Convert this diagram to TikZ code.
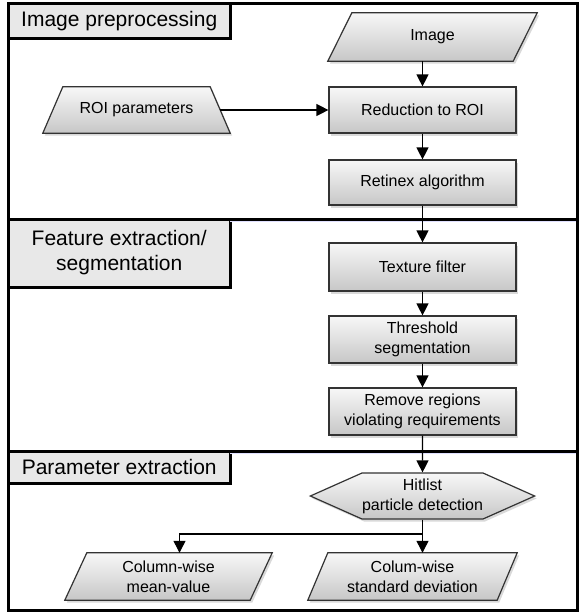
\documentclass[tikz,border=0pt]{standalone}
\usepackage{fontspec}
\setmainfont{Liberation Sans}
\usetikzlibrary{shapes.symbols,shadows,arrows.meta,backgrounds}

\begin{document}
\begin{tikzpicture}
  [x=1pt,y=-1pt,
   every node/.style={font=\fontsize{16}{20}\selectfont,align=center,inner sep=0pt},
   shade box/.style={draw=black!80,line width=1.2pt,top color=black!3,bottom color=black!22,
     drop shadow={shadow xshift=2pt,shadow yshift=-2.5pt,opacity=.3}},
   proc/.style={shade box,rectangle,minimum width=187pt,minimum height=46pt},
   io/.style={rectangle,minimum width=209pt,minimum height=47pt},
   hexa/.style={shade box,signal,signal to=east and west,signal pointer angle=48,
     minimum width=217pt,minimum height=46pt},
   ttl/.style={rectangle,draw=black,line width=3pt,fill=black!9,
     font=\fontsize{21}{25}\selectfont,minimum width=221.5pt},
   arr/.style={-{Triangle[length=12pt,width=12pt]},line width=1.2pt}]
  \useasboundingbox (0,0) rectangle (579,614);

  % lanes
  \node[ttl,minimum height=34.5pt] (ttlA) at (119.25,20.75) {Image preprocessing};
  \node[ttl,minimum height=68pt] (ttlB) at (119.25,253) {Feature extraction/\\segmentation};
  \node[ttl,minimum height=32pt] (ttlC) at (119.25,467) {Parameter extraction};
  \foreach \y in {221.5,453.5}
    \draw[blue!12,line width=1.5pt] (230,\y) -- (575.5,\y);
  \foreach \y in {219,451}
    \draw[line width=3pt] (8.5,\y) -- (577,\y);
  \draw[line width=3pt] (8.5,3.5) rectangle (577,610);

  % flow
  \node[io,minimum height=48pt] (img) at (432.5,37) {Image};
  \node[io,minimum width=187pt,minimum height=46pt] (roi) at (136.5,110) {ROI parameters};
  \node[proc] (red) at (422.5,110) {Reduction to ROI};
  \node[proc,minimum height=45pt] (ret) at (422.5,182.5) {Retinex algorithm};
  \node[proc,minimum height=48pt] (tex) at (422.5,267) {Texture filter};
  \node[proc,minimum height=47pt] (thr) at (422.5,339.5) {Threshold\\segmentation};
  \node[proc,minimum height=47pt] (rem) at (422.5,411.5) {Remove regions\\violating requirements};
  \node[hexa] (hit) at (422.5,496) {Hitlist\\particle detection};
  \node[io,minimum width=207pt] (outA) at (168.5,576.5) {Column-wise\\mean-value};
  \node[io] (outB) at (412.5,576.5) {Colum-wise\\standard deviation};
  \coordinate (fork) at (422.5,534);

  % slanted outlines behind the texts
  \begin{pgfonlayer}{background}
    \foreach \n/\d in {img/24,outA/22,outB/20}
      \path[shade box] ([xshift=\d pt]\n.north west) -- (\n.north east)
        -- ([xshift=-\d pt]\n.south east) -- (\n.south west) -- cycle;
    \path[shade box] (roi.south west) -- ([xshift=20pt]roi.north west)
      -- ([xshift=-20pt]roi.north east) -- (roi.south east) -- cycle;
  \end{pgfonlayer}

  \draw[arr] (img.south -| red) -- (red.north);
  \draw[arr] ([xshift=-10pt]roi.east) -- (red);
  \foreach \from/\to in {red/ret,ret/tex,tex/thr,thr/rem,rem/hit}
    \draw[arr] (\from) -- (\to);
  \draw[arr] (hit.south) -- ([xshift=10pt]outB.north);
  \draw[arr] (fork) -| ([xshift=11pt]outA.north);
\end{tikzpicture}
\end{document}
